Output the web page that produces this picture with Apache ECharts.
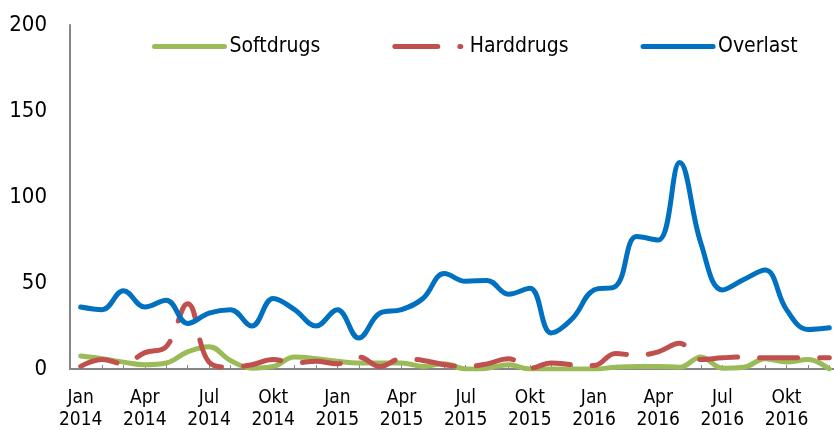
<!DOCTYPE html>
<html lang="nl">
<head>
    <meta charset="UTF-8">
    <title>Softdrugs, harddrugs en overlast</title>
    <script src="https://cdn.jsdelivr.net/npm/echarts@6/dist/echarts.min.js"></script>
    <style>
        html, body { margin: 0; padding: 0; background: #fff; }
        #main { width: 834px; height: 430px; }
    </style>
</head>
<body>
<div id="main"></div>
<script>
    // maanden jan 2014 t/m dec 2016
    var months = ['Jan', 'Feb', 'Mrt', 'Apr', 'Mei', 'Jun', 'Jul', 'Aug', 'Sep', 'Okt', 'Nov', 'Dec'];
    var years = ['2014', '2015', '2016'];
    var categories = [];
    for (var y = 0; y < years.length; y++) {
        for (var m = 0; m < months.length; m++) {
            categories.push(months[m] + '\n' + years[y]);
        }
    }

    var softdrugs = [7.5, 6, 4, 2.5, 3.5, 10, 13, 5, 0.5, 1.5, 7, 6,
                     4.5, 3.5, 3.5, 3.5, 1.5, 3, 0, 0.5, 2.5, 0, 0, 0,
                     0, 1, 1.5, 1.5, 1, 7, 0.5, 1, 6, 4, 5.5, 0];
    var harddrugs = [1.5, 5.5, 3, 9.5, 13, 38, 4, 1, 2.5, 5.5, 3.5, 4.5,
                     3, 7, 1.5, 6, 5, 2.5, 1.5, 3, 6, 0.5, 3.5, 2.5,
                     2, 9, 8, 10, 15, 5.5, 6.5, 7, 6.5, 6.5, 6.5, 6.5];
    var overlast = [36, 34.5, 45.5, 36, 40, 26.5, 32.5, 34.5, 25, 41, 34.5, 25,
                    34.5, 18, 32.5, 34.5, 41, 55.5, 51, 51.5, 43.5, 47, 21, 29.5,
                    46, 48, 77, 75, 120, 73, 46, 52, 57.5, 34.5, 23, 24];

    var font = 'DejaVu Sans Condensed';
    var myChart = echarts.init(document.getElementById('main'));
    var option = {
        animation: false,
        textStyle: { fontFamily: font, color: '#000' },
        legend: {
            left: 152,
            top: 36,
            padding: 0,
            itemWidth: 70,
            itemHeight: 20,
            itemGap: 72,
            itemStyle: { opacity: 0 },
            textStyle: { fontFamily: font, fontSize: 21, color: '#000' },
            data: [
                { name: 'Softdrugs', lineStyle: { width: 5, cap: 'round' } },
                { name: 'Harddrugs', lineStyle: { width: 5, cap: 'round', type: [43, 22, 1, 40] } },
                { name: 'Overlast', lineStyle: { width: 5, cap: 'round' } }
            ]
        },
        grid: {
            left: 70,
            top: 25,
            bottom: 61,
            width: 770,
            outerBoundsMode: 'none'
        },
        xAxis: {
            type: 'category',
            data: categories,
            boundaryGap: true,
            axisLine: { lineStyle: { color: '#868686', width: 2 } },
            axisTick: {
                show: true,
                inside: true,
                length: 4,
                interval: 0,
                alignWithLabel: true,
                lineStyle: { color: '#868686', width: 1 }
            },
            axisLabel: {
                interval: 2,
                fontFamily: font,
                fontSize: 19,
                lineHeight: 22,
                margin: 18,
                color: '#000'
            }
        },
        yAxis: {
            type: 'value',
            min: 0,
            max: 200,
            interval: 50,
            splitLine: { show: false },
            axisTick: { show: false },
            axisLine: { show: true, lineStyle: { color: '#868686', width: 2 } },
            axisLabel: {
                fontFamily: font,
                fontSize: 22,
                margin: 23,
                color: '#000'
            }
        },
        series: [
            {
                name: 'Softdrugs',
                type: 'line',
                data: softdrugs,
                smooth: 0.4,
                symbol: 'none',
                color: '#9BBB59',
                lineStyle: { width: 5, color: '#9BBB59', cap: 'round' }
            },
            {
                name: 'Harddrugs',
                type: 'line',
                data: harddrugs,
                smooth: 0.4,
                symbol: 'none',
                color: '#C0504D',
                lineStyle: { width: 5, color: '#C0504D', type: [38, 22], cap: 'round' }
            },
            {
                name: 'Overlast',
                type: 'line',
                data: overlast,
                smooth: 0.4,
                symbol: 'none',
                color: '#0070C0',
                lineStyle: { width: 5, color: '#0070C0', cap: 'round' }
            }
        ]
    };
    myChart.setOption(option);
</script>
</body>
</html>
